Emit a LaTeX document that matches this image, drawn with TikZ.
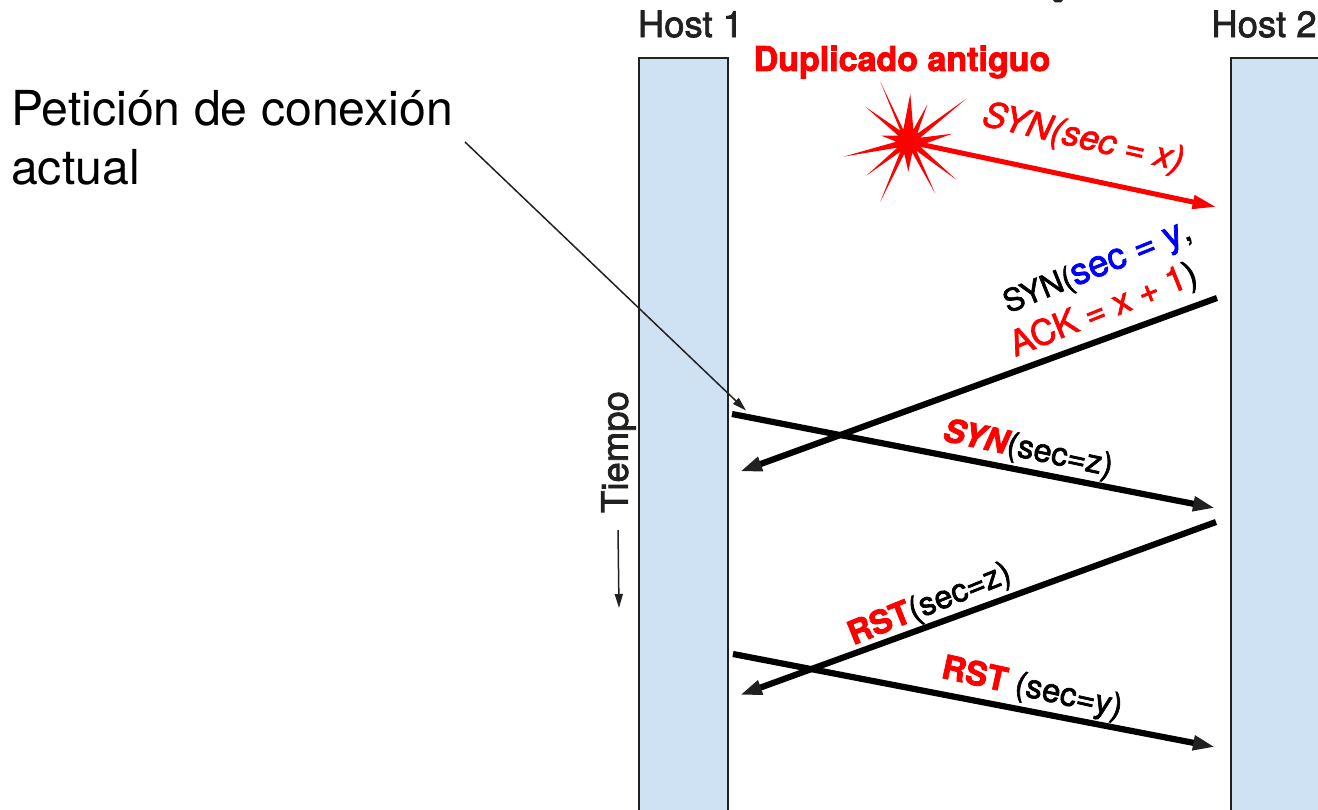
\documentclass[tikz,border=0pt]{standalone}
\usepackage{fontspec}
\setmainfont{TeX Gyre Heros}
\newfontfamily\semi{TeX Gyre Heros}[FakeBold=2]
\newfontfamily\heavy{TeX Gyre Heros}[FakeBold=2.5]
\usetikzlibrary{arrows.meta}
\definecolor{hostfill}{HTML}{CFE2F3}
\definecolor{ink}{HTML}{212121}
\definecolor{bl}{HTML}{0000FF}
\newcommand{\fs}[1]{\fontsize{#1}{#1}\selectfont}
\tikzset{
 x=1pt,y=-1pt,
 hostbox/.style={draw=ink,line width=1.5pt,fill=hostfill,minimum width=89pt,inner sep=0pt,outer sep=0pt,anchor=north west},
 hostlabel/.style={text=ink,font=\semi\fs{36.5},inner sep=0pt},
 msg/.style={line width=6.2pt,-{Triangle[length=22pt,width=14pt,fill=ink,color=ink]}},
 thin arrow/.style={line width=1.5pt,-{Triangle[length=14pt,width=8pt]},ink},
 lab/.style={inner sep=0pt,font=\semi\fs{30}},
}
\begin{document}
\begin{tikzpicture}
\useasboundingbox (0,0) rectangle (1318,810);
\clip (0,0) rectangle (1318,810);
\fill[ink] (1053,0) -- (1063,0) -- (1061,2.5) -- (1055,2.5) -- cycle;
\node[hostbox,minimum height=760pt] (h1) at (639,58) {};
\node[hostbox,minimum height=760pt,minimum width=100pt] (h2) at (1231,58) {};
\node[hostlabel] (h1l) at (690.5,24) {Host 1};
\node[hostlabel] (h2l) at (1264,24) {Host 2};
\node[inner sep=0pt,text=red,font=\heavy\bfseries\fs{34}] (dup) at (902,62) {Duplicado antiguo};
\node[inner sep=0pt,anchor=west,align=left,font=\fs{48.2}] (pet) at (11,138) {Petición de conexión\\[11pt]actual};
% star burst
\fill[red,shift={(908.3,141.7)}] (-28,-60)--(-5,-12)--(2,-48)--(5,-12)--(19,-37)--(9,-8)--(58,-43)--(12,-4)--(44,-8)--(11,4)--(48,38)--(8,9)--(27,52)--(4,11)--(0,30)--(-4,12)--(-28,60)--(-8,10)--(-42,34)--(-11,6)--(-65,15)--(-12,0)--(-27,-6)--(-10,-6)--(-43,-35)--(-8,-11)--cycle;
\coordinate (star) at (908.3,141.7);
\coordinate (a1) at (1216.5,207);
\draw[line width=5pt,red,-{Triangle[length=24pt,width=13pt,color=red]}] (star) -- (a1);
\coordinate (b1) at (1217,298);
\coordinate (b2) at (740,471.5);
\draw[msg] (b1) -- (b2);
\coordinate (c1) at (732,414);
\coordinate (c2) at (1215,508);
\draw[msg] (c1) -- (c2);
\coordinate (d1) at (1216,522);
\coordinate (d2) at (740,695);
\draw[msg] (d1) -- (d2);
\coordinate (e1) at (733,654);
\coordinate (e2) at (1215,747);
\draw[msg] (e1) -- (e2);
\coordinate (p1) at (465,142);
\coordinate (p2) at (746,410.5);
\draw[thin arrow] (p1) -- (p2);
\coordinate (t1) at (618,530);
\coordinate (t2) at (619,608);
\draw[thin arrow] (t1) -- (t2);
\node[rotate=90,inner sep=0pt,text=ink,font=\semi\fs{36.5}] (tiempo) at (618.5,452) {Tiempo};
\node[lab,rotate=-13,text=red,font=\semi\itshape\fs{35}] (l1) at (1083,139) {SYN(sec = x)};
\node[lab,rotate=22,font=\semi\fs{31}] (l2) at (1098,269) {{\fs{31}SYN}(\textcolor{bl}{\fs{37}sec = y},};
\node[lab,rotate=22,text=red,font=\semi\fs{35}] (l3) at (1104,311) {ACK = x + 1\textcolor{black}{)}};
\node[lab,rotate=-12,font=\semi\fs{32.5}] (l4) at (1028,450) {\textcolor{red}{\heavy\bfseries\itshape SYN}(sec=z)};
\node[lab,rotate=22,font=\semi\fs{32.5}] (l5) at (930,605) {\textcolor{red}{\heavy\bfseries RST}(sec=z)};
\node[lab,rotate=-12.5,font=\semi\fs{33}] (l6) at (1032,689) {\textcolor{red}{\heavy\bfseries RST} (sec=y)};
\end{tikzpicture}
\end{document}
